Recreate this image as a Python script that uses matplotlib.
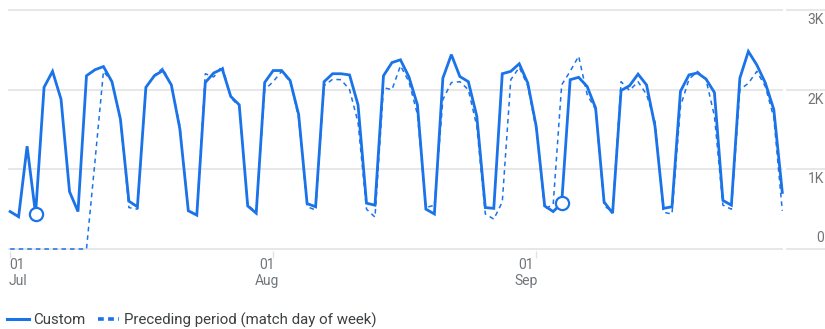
import pandas as pd
import matplotlib.pyplot as plt
import matplotlib.transforms as mtransforms
from matplotlib.lines import Line2D

plt.rcParams['font.family'] = ['Roboto', 'DejaVu Sans']

dates = pd.date_range('2023-07-01', '2023-09-30', freq='D')

custom = [470, 405, 1290, 440, 2030, 2230, 1880, 720, 470, 2175,
          2250, 2290, 2100, 1630, 600, 530, 2030, 2175, 2240, 2060,
          1510, 480, 425, 2090, 2210, 2260, 1915, 1810, 540, 450,
          2090, 2240, 2240, 2115, 1690, 570, 530, 2100, 2200, 2200,
          2185, 1810, 575, 550, 2175, 2340, 2375, 2160, 1810, 500,
          440, 2145, 2440, 2165, 2100, 1665, 520, 510, 2200, 2230,
          2325, 2085, 1540, 540, 470, 575, 2125, 2155, 2040, 1770,
          590, 450, 1990, 2050, 2195, 2060, 1540, 510, 530, 1980,
          2185, 2210, 2135, 1965, 610, 550, 2145, 2480, 2310, 2085,
          1750, 710]

preceding = [0, 0, 0, 0, 0, 0, 0, 0, 0, 0,
             1100, 2230, 2100, 1620, 520, 500, 2030, 2180, 2270, 2050,
             1550, 480, 430, 2200, 2160, 2300, 1900, 1790, 550, 460,
             2000, 2100, 2230, 2100, 1650, 530, 490, 2050, 2130, 2125,
             2000, 1590, 500, 400, 2025, 2000, 2300, 2100, 1690, 520,
             550, 1875, 2090, 2100, 2000, 1540, 440, 375, 590, 2125,
             2280, 2050, 1500, 500, 560, 2060, 2230, 2420, 1940, 1750,
             540, 470, 2100, 1990, 2100, 1940, 1600, 460, 440, 1790,
             2130, 2230, 2130, 1670, 550, 500, 2000, 2080, 2230, 2040,
             1650, 480]

holidays = pd.to_datetime(['2023-07-04', '2023-09-04'])

tick_dates = pd.to_datetime(['2023-07-01', '2023-08-01', '2023-09-01'])
tick_labels = ['01\nJul', '01\nAug', '01\nSep']
y_ticks = [0, 1000, 2000, 3000]
y_labels = ['0', '1K', '2K', '3K']

blue = '#1a73e8'
grid = '#e3e3e3'
text_grey = '#70757a'

W, H = 825, 329
fig = plt.figure(figsize=(W / 100, H / 100), dpi=100)

px_per_k = 79.7
y_lo, y_hi = -30, 3030
ax_left, ax_right = 8, 783
ax_bottom = 249 + (-y_lo) / 1000 * px_per_k
ax_top = 10 - (y_hi - 3000) / 1000 * px_per_k
ax = fig.add_axes([ax_left / W, 1 - ax_bottom / H,
                   (ax_right - ax_left) / W, (ax_bottom - ax_top) / H])

ax.plot(dates, preceding, color=blue, lw=1.1, dashes=(3, 2.6), clip_on=False)
ax.plot(dates, custom, color=blue, lw=2.0, solid_joinstyle='miter', clip_on=False)

s = pd.Series(custom, index=dates)
ax.plot(holidays, s[holidays], 'o', ms=9.5, mfc='white', mec=blue, mew=1.6, zorder=5)

ax.set_ylim(y_lo, y_hi)
ax.set_xlim(dates[0] - pd.Timedelta(hours=6), dates[-1] + pd.Timedelta(hours=2))

for sp in ax.spines.values():
    sp.set_visible(False)
ax.set_yticks(y_ticks)
ax.yaxis.grid(True, color=grid, lw=1.2)
ax.tick_params(axis='y', length=0, labelleft=False)
ax.set_axisbelow(True)

ax.set_xticks(tick_dates)
ax.set_xticklabels([])
ax.tick_params(axis='x', length=5, width=1, color=grid, direction='out')

# month labels under the ticks
for d, lab, ha, dx in zip(tick_dates, tick_labels, ['left', 'center', 'center'], [-1, -6, -10]):
    ax.annotate(lab, xy=(d, 0), xycoords=('data', 'data'), xytext=(dx, -9),
                textcoords='offset pixels', ha=ha, va='top', fontsize=10,
                color=text_grey, linespacing=1.15)

# value labels at the right edge, with the grid continuing underneath
edge = mtransforms.blended_transform_factory(fig.transFigure, ax.transData)
for v, lab in zip(y_ticks, y_labels):
    fig.add_artist(Line2D([787 / W, 1.0], [v, v], transform=edge, color=grid, lw=1.2))
    dy = 11 if v == 0 else -10
    ax.annotate(lab, xy=(824 / W, v), xycoords=('figure fraction', 'data'),
                xytext=(0, dy), textcoords='offset pixels', ha='right', va='center',
                fontsize=10, color=text_grey, annotation_clip=False)

handles = [Line2D([], [], color=blue, lw=2.2),
           Line2D([], [], color=blue, lw=2.6, dashes=(1.6, 1.2))]
fig.legend(handles, ['Custom', 'Preceding period (match day of week)'],
           loc='center left', bbox_to_anchor=(7 / W, 1 - 320 / H), ncol=2,
           frameon=False, borderpad=0, borderaxespad=0, handlelength=1.45,
           handletextpad=0.3, columnspacing=0.8, fontsize=10.8,
           labelcolor='#3c4043')

fig.savefig('out.png', dpi=100)
